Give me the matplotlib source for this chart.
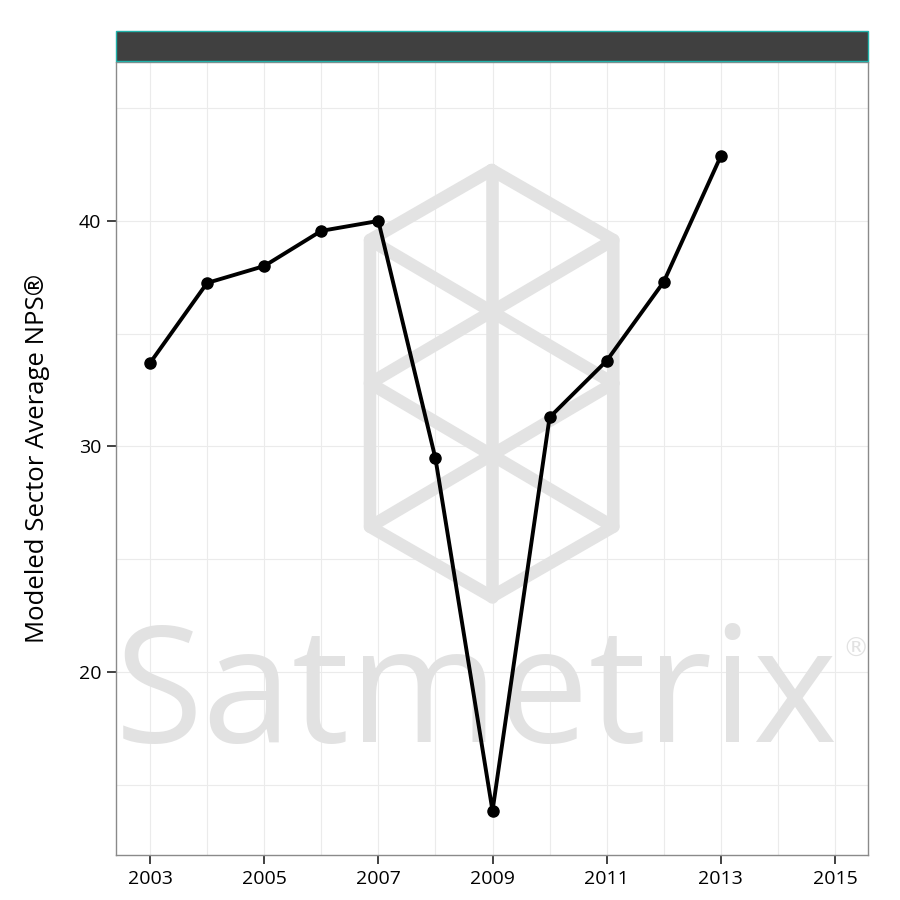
import matplotlib
matplotlib.use("Agg")
import matplotlib.pyplot as plt
from matplotlib.patches import Rectangle

years = [2003, 2004, 2005, 2006, 2007, 2008, 2009, 2010, 2011, 2012, 2013]
nps = [33.7, 37.25, 38.0, 39.56, 40.0, 29.47, 13.84, 31.29, 33.8, 37.3, 42.88]
x_ticks = [2003, 2005, 2007, 2009, 2011, 2013, 2015]
y_ticks = [20, 30, 40]
y_label = "Modeled Sector Average NPS®"
watermark = "Satmetrix"

W, H = 900, 900
fig = plt.figure(figsize=(9, 9), dpi=100)
L, R, B, T = 116, 868, 855, 62
ax = fig.add_axes([L / W, 1 - B / H, (R - L) / W, (B - T) / H])

ax.set_xticks(x_ticks)
ax.set_xticks([y for y in range(2002, 2016) if y not in x_ticks], minor=True)
ax.set_yticks(y_ticks)
ax.set_yticks([15, 25, 35, 45], minor=True)
ax.grid(True, which="both", color="#ebebeb", linewidth=0.8, zorder=0)
ax.set_axisbelow(True)

def af(px, py):
    return ((px - L) / (R - L), (B - py) / (B - T))

top = (491.7, 170); UL = (370, 240); LL = (370, 526.7); bot = (491.7, 596.7)
LR = (613.3, 526.7); UR = (613.3, 240); LM = (370, 383.3); RM = (613.3, 383.3)
segs = [
    [top, UR, LR, bot, LL, UL, top],
    [top, bot],
    [UL, RM], [UR, LM], [LM, LR], [RM, LL],
]
for s in segs:
    xs, ys = zip(*[af(*p) for p in s])
    ax.plot(xs, ys, transform=ax.transAxes, color="#e3e3e3", linewidth=9,
            solid_capstyle="round", solid_joinstyle="round", zorder=1)

ax.text(*af(476, 742), watermark, transform=ax.transAxes, ha="center",
        va="baseline", fontsize=116, color="#e2e2e2", family="Open Sans",
        fontweight="normal", zorder=1)
ax.text(*af(856, 650), "®", transform=ax.transAxes, ha="center", va="center",
        fontsize=19, color="#e2e2e2", family="DejaVu Sans", zorder=1)

ax.plot(years, nps, color="black", linewidth=2.8, marker="o", markersize=8,
        zorder=5, solid_capstyle="round")

ax.set_xlim(2002.404, 2015.578)
ax.set_ylim(11.88, 47.05)

for sp in ax.spines.values():
    sp.set_color("#8a8a8a")
    sp.set_linewidth(1.0)

ax.tick_params(which="major", length=6.5, width=1.3, color="#333333",
               labelcolor="black", pad=4)
ax.tick_params(which="minor", length=0)
for lab in ax.get_xticklabels() + ax.get_yticklabels():
    lab.set_family("Open Sans")
    lab.set_fontsize(14)

ax.set_ylabel(y_label, fontsize=18.5, family="Open Sans", labelpad=21)

fig.patches.append(Rectangle((L / W, 1 - 61 / H), (R - L) / W, 30 / H,
                             transform=fig.transFigure, facecolor="#404040",
                             edgecolor="#20b2aa", linewidth=1.0))

fig.savefig("out.png", dpi=100)
